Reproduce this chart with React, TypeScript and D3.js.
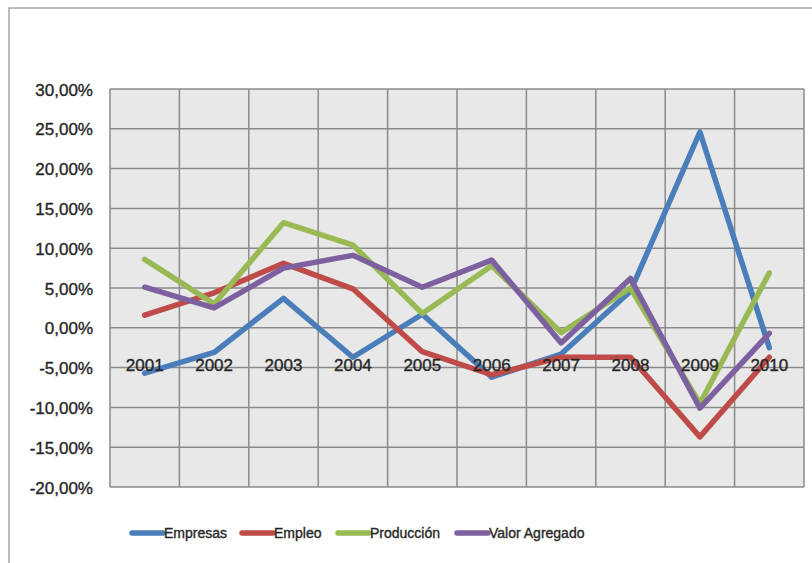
import React from "react";
import * as d3 from "d3";

const years = ["2001", "2002", "2003", "2004", "2005", "2006", "2007", "2008", "2009", "2010"];
const empresas = [-5.7, -3.1, 3.7, -3.7, 1.7, -6.2, -3.3, 4.6, 24.6, -2.5];
const empleo = [1.6, 4.4, 8.1, 4.9, -3.0, -5.9, -3.7, -3.7, -13.7, -3.7];
const produccion = [8.6, 3.0, 13.2, 10.4, 1.8, 7.8, -0.6, 5.0, -9.5, 6.9];
const valorAgregado = [5.1, 2.5, 7.5, 9.1, 5.1, 8.5, -1.9, 6.2, -10.1, -0.7];
const yTicks = [30, 25, 20, 15, 10, 5, 0, -5, -10, -15, -20];

const seriesList = [
  { name: "Empresas", values: empresas, color: "#4a7ebb" },
  { name: "Empleo", values: empleo, color: "#be4b48" },
  { name: "Producción", values: produccion, color: "#98b954" },
  { name: "Valor Agregado", values: valorAgregado, color: "#7d60a0" },
];

const W = 812;
const H = 563;
const plot = { left: 110, right: 804, top: 89, bottom: 487 };
const FONT = "'Liberation Sans', Arial, sans-serif";
const TEXT = "#262626";
const GRID = "#8a8a8a";

const fmt = (v: number) => `${v.toFixed(2).replace(".", ",")}%`;

// slightly heavier glyphs for all labels
const textStyle = { stroke: TEXT, strokeWidth: 0.35 };

export default function App() {
  const x = d3.scaleBand<string>().domain(years).range([plot.left, plot.right]);
  const y = d3.scaleLinear().domain([-20, 30]).range([plot.bottom, plot.top]);
  const cx = (d: string) => (x(d) ?? 0) + x.bandwidth() / 2;
  const line = d3
    .line<number>()
    .x((_, i) => cx(years[i]))
    .y((v) => y(v));

  const legendX = [132, 242, 338, 457];

  return (
    <svg
      width={W}
      height={H}
      style={{ position: "absolute", left: 0, top: 0, display: "block", background: "#fff" }}
    >
      {/* chart frame */}
      <rect x={9} y={8} width={W + 20} height={H + 20} fill="#fff" stroke="#a6a6a6" strokeWidth={1.5} />

      {/* plot area */}
      <rect
        x={plot.left}
        y={plot.top}
        width={plot.right - plot.left}
        height={plot.bottom - plot.top}
        fill="#e8e8e8"
      />
      {yTicks.map((t) => (
        <line key={`h${t}`} x1={plot.left} x2={plot.right} y1={y(t)} y2={y(t)} stroke={GRID} strokeWidth={1.5} />
      ))}
      {years.map((yr) => (
        <line
          key={`v${yr}`}
          x1={x(yr)}
          x2={x(yr)}
          y1={plot.top}
          y2={plot.bottom}
          stroke={GRID}
          strokeWidth={1.5}
        />
      ))}
      <line x1={plot.right} x2={plot.right} y1={plot.top} y2={plot.bottom} stroke={GRID} strokeWidth={1.5} />

      {/* y axis labels */}
      {yTicks.map((t) => (
        <text
          key={`yl${t}`}
          x={93}
          y={y(t) + 6.5}
          textAnchor="end"
          fontFamily={FONT}
          fontSize={17}
          fill={TEXT}
          style={textStyle}
        >
          {fmt(t)}
        </text>
      ))}

      {/* series lines */}
      {seriesList.map((s) => (
        <path
          key={s.name}
          d={line(s.values) ?? ""}
          fill="none"
          stroke={s.color}
          strokeWidth={5.5}
          strokeLinejoin="round"
          strokeLinecap="round"
        />
      ))}

      {/* category labels along the zero line */}
      {years.map((yr) => (
        <text
          key={`xl${yr}`}
          x={cx(yr)}
          y={y(0) + 43}
          textAnchor="middle"
          fontFamily={FONT}
          fontSize={17}
          fill={TEXT}
          style={textStyle}
        >
          {yr}
        </text>
      ))}

      {/* legend */}
      {seriesList.map((s, i) => (
        <g key={`lg${s.name}`}>
          <line
            x1={legendX[i]}
            x2={legendX[i] + 31}
            y1={533}
            y2={533}
            stroke={s.color}
            strokeWidth={5.5}
            strokeLinecap="round"
          />
          <text x={legendX[i] + 32} y={538} fontFamily={FONT} fontSize={14} fill={TEXT} style={textStyle}>
            {s.name}
          </text>
        </g>
      ))}
    </svg>
  );
}
